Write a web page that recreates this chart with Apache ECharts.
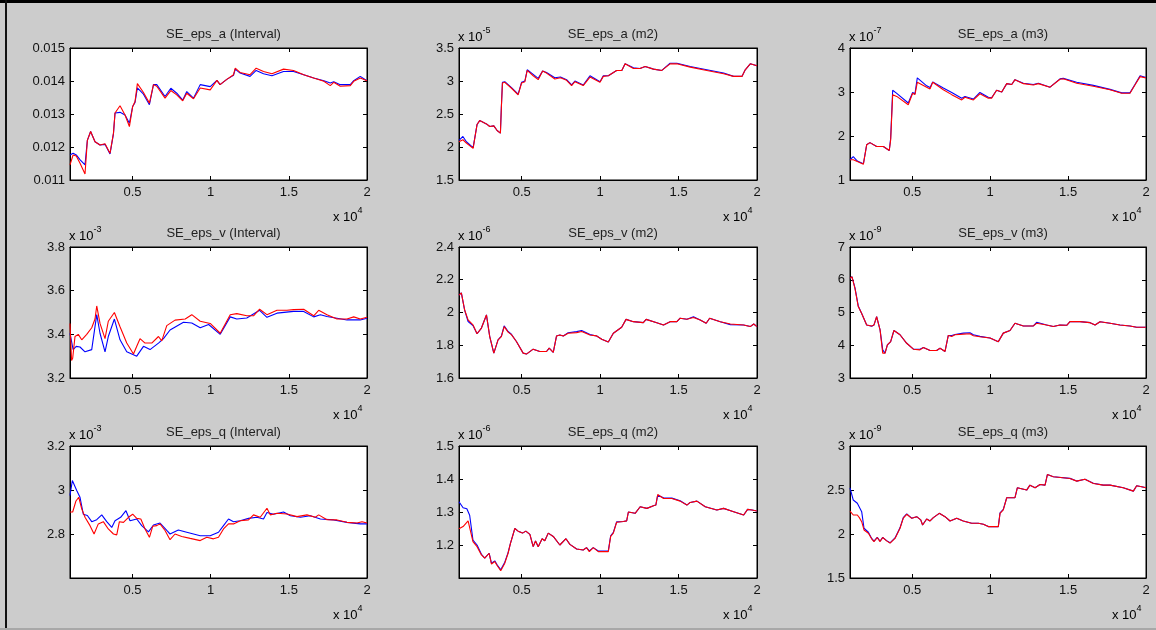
<!DOCTYPE html>
<html>
<head>
<meta charset="utf-8">
<script src="https://cdn.jsdelivr.net/npm/echarts@6/dist/echarts.min.js"></script>
<style>
  html, body { margin: 0; padding: 0; background: #cccccc; }
  #main { width: 1156px; height: 630px; }
</style>
</head>
<body>
<div id="main"></div>
<script>
// x axis (samples), shown as x 10^4
var xLim = [1000, 20000];
var xTicks = [5000, 10000, 15000, 20000];

// SE_eps_a (Interval)
var aIntBlue = [[1000,0.01176],[1200,0.01181],[1400,0.01176],[1650,0.01161],[1960,0.01146],[2110,0.0122],[2320,0.01247],[2600,0.01216],[2920,0.01206],[3240,0.01208],[3560,0.01179],[3670,0.01174],[3780,0.0124],[3880,0.01303],[4200,0.01305],[4520,0.01297],[4800,0.01272],[5010,0.01323],[5160,0.01335],[5310,0.01379],[5700,0.0136],[6080,0.01328],[6340,0.01389],[6550,0.01389],[7080,0.01353],[7450,0.01378],[7830,0.01363],[8210,0.01342],[8470,0.01368],[8900,0.01348],[9330,0.01389],[9970,0.01383],[10400,0.01402],[10600,0.01389],[11030,0.01405],[11460,0.01417],[11570,0.01436],[11880,0.01424],[12520,0.01414],[12910,0.01432],[13380,0.01422],[13920,0.01416],[14660,0.01429],[15300,0.01429],[15950,0.01419],[16590,0.01409],[17240,0.01401],[17650,0.01394],[17870,0.01398],[18290,0.01389],[18930,0.01389],[19150,0.01401],[19570,0.01414],[20000,0.01401]];
var aIntRed = [[1000,0.01146],[1200,0.01176],[1400,0.01173],[1650,0.0115],[1960,0.01118],[2110,0.0122],[2320,0.01247],[2600,0.01216],[2920,0.01206],[3240,0.0121],[3560,0.01181],[3670,0.01176],[3780,0.01242],[3880,0.01303],[4200,0.01325],[4520,0.01297],[4800,0.01262],[5010,0.01323],[5160,0.01338],[5310,0.01392],[5700,0.01365],[6080,0.01333],[6340,0.01389],[6550,0.01384],[7080,0.01348],[7450,0.01371],[7830,0.01358],[8210,0.0134],[8470,0.01363],[8900,0.01346],[9330,0.01379],[9970,0.01373],[10400,0.01402],[10600,0.01389],[11030,0.01405],[11460,0.01419],[11570,0.01439],[11880,0.01426],[12520,0.01419],[12910,0.01439],[13380,0.01429],[13920,0.01422],[14660,0.01436],[15300,0.01432],[15950,0.01419],[16590,0.01409],[17240,0.01399],[17650,0.01386],[17870,0.01396],[18290,0.01384],[18930,0.01386],[19150,0.01399],[19570,0.01409],[20000,0.01401]];

// SE_eps_a (m2), x 10^-5
var aM2Blue = [[1000,2.1],[1250,2.16],[1470,2.08],[1900,1.99],[2000,2.0],[2150,2.34],[2320,2.4],[2750,2.35],[2960,2.31],[3220,2.32],[3430,2.25],[3640,2.21],[3700,2.6],[3770,2.98],[3920,2.99],[4350,2.9],[4770,2.8],[4990,2.98],[5200,3.0],[5350,3.17],[5730,3.1],[6050,3.04],[6330,3.15],[6580,3.13],[7110,3.05],[7470,3.06],[7860,3.02],[8180,2.94],[8390,3.0],[8920,2.94],[9350,3.08],[9990,2.99],[10200,3.08],[10520,3.08],[11050,3.16],[11380,3.16],[11590,3.26],[12120,3.2],[12540,3.19],[12870,3.22],[13400,3.18],[13930,3.16],[14460,3.27],[14890,3.27],[15740,3.22],[16800,3.17],[17870,3.12],[18510,3.07],[19040,3.07],[19250,3.17],[19570,3.26],[20000,3.23]];
var aM2Red = [[1000,2.08],[1250,2.11],[1470,2.06],[1900,1.98],[2000,2.0],[2150,2.34],[2320,2.4],[2750,2.35],[2960,2.31],[3220,2.32],[3430,2.25],[3640,2.21],[3700,2.59],[3770,2.97],[3920,2.98],[4350,2.89],[4770,2.79],[4990,2.97],[5200,2.99],[5350,3.16],[5730,3.08],[6050,3.02],[6330,3.15],[6580,3.12],[7110,3.03],[7470,3.05],[7860,3.01],[8180,2.93],[8390,2.99],[8920,2.93],[9350,3.06],[9990,2.98],[10200,3.07],[10520,3.08],[11050,3.16],[11380,3.16],[11590,3.26],[12120,3.19],[12540,3.19],[12870,3.22],[13400,3.18],[13930,3.16],[14460,3.26],[14890,3.26],[15740,3.21],[16800,3.16],[17870,3.11],[18510,3.07],[19040,3.07],[19250,3.17],[19570,3.26],[20000,3.23]];

// SE_eps_a (m3), x 10^-7
var aM3Blue = [[1000,1.46],[1210,1.53],[1470,1.43],[1860,1.37],[2070,1.8],[2280,1.85],[2710,1.76],[3140,1.76],[3520,1.67],[3610,1.95],[3740,3.04],[4000,2.97],[4740,2.75],[5020,2.99],[5170,2.96],[5320,3.32],[5920,3.14],[6140,3.1],[6310,3.23],[6990,3.09],[7530,2.99],[8170,2.86],[8380,2.9],[8920,2.84],[9340,2.99],[9880,2.88],[10090,2.87],[10410,3.04],[10740,3.0],[11060,3.19],[11380,3.17],[11590,3.28],[12130,3.2],[12770,3.17],[13090,3.2],[13840,3.11],[14480,3.3],[14690,3.31],[15550,3.22],[16620,3.15],[17690,3.06],[18440,2.98],[18970,2.98],[19290,3.17],[19620,3.37],[20000,3.33]];
var aM3Red = [[1000,1.46],[1210,1.46],[1470,1.42],[1860,1.36],[2070,1.8],[2280,1.85],[2710,1.76],[3140,1.76],[3520,1.67],[3610,1.91],[3740,2.94],[4000,2.9],[4740,2.71],[5020,2.97],[5170,2.94],[5320,3.22],[5920,3.11],[6140,3.07],[6310,3.22],[6990,3.05],[7530,2.94],[8170,2.82],[8380,2.88],[8920,2.82],[9340,2.96],[9880,2.86],[10090,2.86],[10410,3.04],[10740,3.0],[11060,3.19],[11380,3.17],[11590,3.28],[12130,3.19],[12770,3.16],[13090,3.19],[13840,3.11],[14480,3.29],[14690,3.3],[15550,3.2],[16620,3.13],[17690,3.05],[18440,2.97],[18970,2.97],[19290,3.16],[19620,3.35],[20000,3.32]];

// SE_eps_v (Interval), x 10^-3
var vIntBlue = [[1000,3.405],[1100,3.4],[1200,3.33],[1400,3.345],[1640,3.342],[1960,3.32],[2390,3.33],[2710,3.49],[2920,3.405],[3240,3.32],[3450,3.39],[3840,3.47],[4200,3.375],[4630,3.32],[5270,3.3],[5700,3.345],[6120,3.33],[6660,3.36],[6980,3.38],[7400,3.42],[8260,3.455],[8790,3.452],[9330,3.43],[9870,3.445],[10610,3.4],[11250,3.48],[11670,3.47],[12310,3.475],[13130,3.51],[13600,3.478],[14240,3.497],[15300,3.505],[15950,3.505],[16590,3.48],[17020,3.49],[17440,3.482],[18720,3.466],[19570,3.466],[20000,3.474]];
var vIntRed = [[1000,3.45],[1100,3.28],[1170,3.29],[1320,3.39],[1530,3.4],[1750,3.375],[2070,3.4],[2390,3.43],[2600,3.47],[2710,3.53],[2920,3.45],[3240,3.38],[3450,3.46],[3840,3.5],[4200,3.435],[4630,3.36],[5060,3.31],[5270,3.345],[5480,3.38],[5800,3.36],[6230,3.36],[6660,3.39],[6870,3.37],[7190,3.44],[7720,3.465],[8370,3.47],[8790,3.49],[9330,3.46],[9970,3.45],[10610,3.405],[11250,3.49],[11670,3.495],[12310,3.485],[12740,3.485],[13130,3.515],[13600,3.49],[14240,3.51],[14880,3.51],[15300,3.513],[15950,3.515],[16590,3.485],[16910,3.51],[17440,3.49],[18080,3.47],[18720,3.47],[19150,3.48],[19570,3.47],[20000,3.478]];

// SE_eps_v (m2), x 10^-6
var vM2Blue = [[1000,2.106],[1150,2.12],[1360,2.015],[1580,1.945],[1890,1.92],[2150,1.87],[2430,1.905],[2530,1.899],[2750,1.985],[2960,1.853],[3220,1.752],[3340,1.752],[3490,1.833],[3700,1.855],[3880,1.918],[4130,1.884],[4340,1.867],[4660,1.823],[5090,1.752],[5300,1.746],[5730,1.776],[6150,1.762],[6580,1.762],[6750,1.782],[7010,1.756],[7220,1.857],[7430,1.863],[7650,1.857],[7960,1.876],[8500,1.883],[8820,1.89],[9350,1.865],[9780,1.857],[10100,1.837],[10520,1.82],[10840,1.873],[11370,1.91],[11650,1.958],[12120,1.944],[12750,1.938],[12930,1.958],[13610,1.938],[14040,1.924],[14460,1.944],[14890,1.944],[15100,1.965],[15530,1.959],[15950,1.974],[16380,1.954],[16760,1.934],[16980,1.965],[17660,1.944],[18300,1.926],[19150,1.924],[19570,1.914],[19790,1.93],[20000,1.914]];
var vM2Red = [[1000,2.106],[1150,2.12],[1360,2.015],[1580,1.955],[1890,1.925],[2150,1.87],[2430,1.905],[2530,1.899],[2750,1.985],[2960,1.853],[3220,1.752],[3340,1.752],[3490,1.833],[3700,1.853],[3880,1.914],[4130,1.88],[4340,1.865],[4660,1.823],[5090,1.752],[5300,1.746],[5730,1.776],[6150,1.762],[6580,1.762],[6750,1.782],[7010,1.756],[7220,1.857],[7430,1.863],[7650,1.857],[7960,1.873],[8500,1.877],[8820,1.884],[9350,1.863],[9780,1.857],[10100,1.837],[10520,1.82],[10840,1.873],[11370,1.91],[11650,1.958],[12120,1.944],[12750,1.938],[12930,1.958],[13610,1.938],[14040,1.924],[14460,1.944],[14890,1.944],[15100,1.965],[15530,1.959],[15950,1.97],[16380,1.954],[16760,1.934],[16980,1.965],[17660,1.944],[18300,1.93],[19150,1.924],[19570,1.914],[19790,1.93],[20000,1.914]];

// SE_eps_v (m3), x 10^-9
var vM3Blue = [[1000,6.04],[1130,6.09],[1320,5.75],[1530,5.2],[1750,4.97],[2070,4.62],[2390,4.58],[2540,4.62],[2710,4.87],[2930,4.47],[3100,3.86],[3250,3.76],[3400,4.01],[3610,4.11],[3820,4.45],[4210,4.32],[4640,4.06],[5070,3.88],[5490,3.88],[5710,3.93],[6140,3.84],[6560,3.84],[6780,3.91],[7100,3.81],[7310,4.3],[7530,4.3],[7740,4.33],[8280,4.37],[8700,4.38],[8920,4.32],[9340,4.27],[9990,4.22],[10520,4.11],[10840,4.37],[11270,4.45],[11590,4.67],[12130,4.59],[12770,4.59],[12980,4.7],[13620,4.62],[14050,4.57],[14480,4.62],[14910,4.61],[15120,4.72],[15760,4.72],[16410,4.69],[16730,4.62],[17050,4.72],[17690,4.67],[18330,4.62],[18970,4.59],[19400,4.55],[20000,4.55]];
var vM3Red = [[1000,6.04],[1130,6.09],[1320,5.73],[1530,5.18],[1750,4.97],[2070,4.62],[2390,4.59],[2540,4.62],[2710,4.87],[2930,4.47],[3100,3.76],[3250,3.76],[3400,4.01],[3610,4.11],[3820,4.45],[4210,4.32],[4640,4.06],[5070,3.88],[5490,3.86],[5710,3.93],[6140,3.84],[6560,3.84],[6780,3.91],[7100,3.81],[7310,4.3],[7530,4.27],[7740,4.32],[8280,4.34],[8700,4.35],[8920,4.29],[9340,4.26],[9990,4.22],[10520,4.11],[10840,4.37],[11270,4.45],[11590,4.67],[12130,4.59],[12770,4.59],[12980,4.67],[13620,4.62],[14050,4.57],[14480,4.62],[14910,4.61],[15120,4.72],[15760,4.72],[16410,4.69],[16730,4.62],[17050,4.72],[17690,4.67],[18330,4.62],[18970,4.59],[19400,4.55],[20000,4.55]];

// SE_eps_q (Interval), x 10^-3
var qIntBlue = [[1000,2.975],[1150,3.043],[1430,2.998],[1640,2.967],[1850,2.89],[2110,2.884],[2390,2.856],[2710,2.865],[3030,2.887],[3350,2.856],[3670,2.83],[3880,2.86],[4240,2.876],[4580,2.906],[4840,2.86],[5270,2.868],[5590,2.838],[6020,2.81],[6340,2.841],[6760,2.85],[7190,2.816],[7400,2.8],[7930,2.818],[8470,2.808],[9330,2.792],[9970,2.792],[10500,2.808],[10820,2.838],[11140,2.868],[11460,2.856],[11890,2.86],[12420,2.871],[12960,2.876],[13380,2.868],[13600,2.898],[14020,2.89],[14660,2.9],[15100,2.883],[15740,2.876],[16380,2.883],[17020,2.868],[17870,2.864],[18720,2.853],[19570,2.846],[20000,2.846]];
var qIntRed = [[1000,2.9],[1170,2.9],[1380,2.95],[1560,2.967],[1750,2.914],[1960,2.876],[2280,2.838],[2540,2.8],[2810,2.846],[3130,2.856],[3450,2.823],[3780,2.8],[3990,2.796],[4160,2.856],[4420,2.853],[4740,2.876],[5010,2.89],[5270,2.871],[5530,2.868],[5800,2.823],[6080,2.785],[6290,2.835],[6550,2.838],[6760,2.846],[7080,2.816],[7400,2.774],[7720,2.8],[8150,2.789],[8690,2.78],[9330,2.77],[9750,2.785],[10180,2.778],[10500,2.785],[10820,2.823],[11140,2.846],[11460,2.846],[11890,2.86],[12420,2.864],[12740,2.887],[13170,2.876],[13600,2.917],[13810,2.887],[14240,2.894],[14880,2.891],[15520,2.879],[16160,2.887],[16690,2.876],[16910,2.887],[17440,2.865],[18080,2.864],[18720,2.853],[19360,2.85],[19680,2.856],[20000,2.85]];

// SE_eps_q (m2), x 10^-6
var qM2Blue = [[1000,1.331],[1260,1.313],[1500,1.31],[1680,1.29],[1890,1.215],[2150,1.2],[2430,1.172],[2640,1.16],[2920,1.175],[3070,1.145],[3280,1.152],[3430,1.14],[3660,1.125],[3920,1.148],[4130,1.177],[4280,1.205],[4560,1.25],[4770,1.242],[5050,1.236],[5260,1.242],[5520,1.232],[5730,1.195],[5880,1.212],[6050,1.195],[6300,1.219],[6470,1.213],[6690,1.236],[7010,1.226],[7430,1.2],[7820,1.219],[8070,1.202],[8500,1.188],[8920,1.185],[9130,1.192],[9310,1.182],[9560,1.192],[9880,1.182],[10520,1.182],[10670,1.228],[10840,1.238],[11050,1.27],[11480,1.271],[11690,1.273],[11800,1.3],[12230,1.296],[12550,1.316],[12980,1.311],[13400,1.319],[13550,1.321],[13670,1.351],[14040,1.343],[14570,1.342],[15100,1.334],[15530,1.321],[15740,1.329],[16170,1.333],[16700,1.316],[17440,1.306],[17870,1.311],[18510,1.301],[19150,1.291],[19400,1.308],[19680,1.306],[20000,1.303]];
var qM2Red = [[1000,1.249],[1260,1.256],[1580,1.273],[1680,1.271],[1890,1.21],[2150,1.195],[2430,1.17],[2640,1.16],[2920,1.175],[3070,1.142],[3280,1.15],[3430,1.138],[3660,1.122],[3920,1.145],[4130,1.175],[4280,1.205],[4560,1.25],[4770,1.242],[5050,1.236],[5260,1.242],[5520,1.232],[5730,1.195],[5880,1.212],[6050,1.195],[6300,1.219],[6470,1.213],[6690,1.236],[7010,1.226],[7430,1.2],[7820,1.219],[8070,1.202],[8500,1.188],[8920,1.185],[9130,1.192],[9310,1.18],[9560,1.192],[9880,1.18],[10520,1.18],[10670,1.226],[10840,1.236],[11050,1.269],[11480,1.271],[11690,1.273],[11800,1.3],[12230,1.296],[12550,1.316],[12980,1.311],[13400,1.319],[13550,1.321],[13670,1.353],[14040,1.341],[14570,1.341],[15100,1.333],[15530,1.321],[15740,1.329],[16170,1.333],[16700,1.316],[17440,1.306],[17870,1.311],[18510,1.301],[19150,1.291],[19400,1.308],[19680,1.306],[20000,1.303]];

// SE_eps_q (m3), x 10^-9
var qM3Blue = [[1000,2.525],[1210,2.386],[1470,2.35],[1750,2.254],[1900,2.065],[2180,2.02],[2390,1.95],[2540,1.918],[2750,1.962],[2930,1.918],[3100,1.962],[3350,1.925],[3570,1.9],[3890,1.955],[4210,2.07],[4420,2.185],[4640,2.228],[4960,2.18],[5280,2.197],[5540,2.16],[5660,2.103],[5920,2.171],[6140,2.148],[6350,2.186],[6730,2.235],[7100,2.197],[7420,2.148],[7850,2.178],[8270,2.148],[8810,2.122],[9240,2.122],[9560,2.111],[9880,2.084],[10520,2.084],[10630,2.24],[10840,2.28],[11060,2.412],[11590,2.412],[11740,2.525],[12340,2.499],[12550,2.555],[12880,2.525],[13200,2.563],[13520,2.555],[13670,2.676],[14050,2.65],[15120,2.632],[15550,2.601],[16080,2.623],[16620,2.576],[17260,2.555],[17690,2.555],[18540,2.525],[19190,2.487],[19400,2.548],[19720,2.537],[20000,2.525]];
var qM3Red = [[1000,2.26],[1210,2.216],[1470,2.216],[1600,2.186],[1750,2.14],[1900,2.046],[2180,2.009],[2390,1.945],[2540,1.914],[2750,1.96],[2930,1.914],[3100,1.96],[3350,1.922],[3570,1.896],[3890,1.95],[4210,2.065],[4420,2.18],[4640,2.224],[4960,2.178],[5280,2.197],[5540,2.16],[5660,2.103],[5920,2.171],[6140,2.148],[6350,2.186],[6730,2.235],[7100,2.197],[7420,2.148],[7850,2.178],[8270,2.148],[8810,2.122],[9240,2.122],[9560,2.111],[9880,2.084],[10520,2.084],[10630,2.235],[10840,2.273],[11060,2.412],[11590,2.412],[11740,2.525],[12340,2.499],[12550,2.555],[12880,2.525],[13200,2.563],[13520,2.555],[13670,2.676],[14050,2.65],[15120,2.63],[15550,2.601],[16080,2.623],[16620,2.574],[17260,2.555],[17690,2.555],[18540,2.525],[19190,2.487],[19400,2.548],[19720,2.537],[20000,2.525]];

var titles = ['SE_eps_a (Interval)', 'SE_eps_a (m2)', 'SE_eps_a (m3)',
              'SE_eps_v (Interval)', 'SE_eps_v (m2)', 'SE_eps_v (m3)',
              'SE_eps_q (Interval)', 'SE_eps_q (m2)', 'SE_eps_q (m3)'];
var blues = [aIntBlue, aM2Blue, aM3Blue, vIntBlue, vM2Blue, vM3Blue, qIntBlue, qM2Blue, qM3Blue];
var reds  = [aIntRed, aM2Red, aM3Red, vIntRed, vM2Red, vM3Red, qIntRed, qM2Red, qM3Red];
var yMin  = [0.011, 1.5, 1, 3.2, 1.6, 3, 2.6, 1.1, 1.5];
var yMax  = [0.015, 3.5, 4, 3.8, 2.4, 7, 3.2, 1.5, 3];
var yStep = [0.001, 0.5, 1, 0.2, 0.2, 1, 0.2, 0.1, 0.5];
var yExp  = [null, '-5', '-7', '-3', '-6', '-9', '-3', '-6', '-9'];
var yHide = [null, null, null, null, null, null, 2.6, 1.1, null];

var colLeft = [70, 459, 850];
var colWidth = [297, 298, 296];
var rowTop = [48, 247, 446];
var rowHeight = [132, 131, 132];

var chart = echarts.init(document.getElementById('main'));
var font = 'Liberation Sans, Arial, sans-serif';

var grids = [], xAxes = [], yAxes = [], series = [], titleOpts = [], graphics = [];

for (var i = 0; i < 9; i++) {
  var r = Math.floor(i / 3), c = i % 3;
  var L = colLeft[c], W = colWidth[c], T = rowTop[r], H = rowHeight[r];
  grids.push({ left: L, top: T, width: W, height: H, show: true,
    backgroundColor: '#ffffff', borderColor: '#000000', borderWidth: 1,
    containLabel: false, outerBoundsMode: 'none' });

  var tickStyle = { show: true, inside: true, length: 4, lineStyle: { color: '#000', width: 1 } };
  xAxes.push({ type: 'value', gridIndex: i, position: 'bottom', min: xLim[0], max: xLim[1],
    axisLine: { show: true, lineStyle: { color: '#000', width: 1 } },
    axisTick: Object.assign({ customValues: xTicks }, tickStyle),
    splitLine: { show: false },
    axisLabel: { customValues: xTicks, margin: 6, color: '#111', fontFamily: font, fontSize: 13,
      formatter: function (v) { return String(+(v / 10000).toFixed(2)); } } });
  xAxes.push({ type: 'value', gridIndex: i, position: 'top', min: xLim[0], max: xLim[1],
    axisLine: { show: true, lineStyle: { color: '#000', width: 1 } },
    axisTick: Object.assign({ customValues: xTicks }, tickStyle),
    splitLine: { show: false }, axisLabel: { show: false } });

  (function (hide) {
    yAxes.push({ type: 'value', gridIndex: i, position: 'left', min: yMin[i], max: yMax[i], interval: yStep[i],
      axisLine: { show: true, lineStyle: { color: '#000', width: 1 } },
      axisTick: tickStyle, splitLine: { show: false },
      axisLabel: { margin: 5, color: '#111', fontFamily: font, fontSize: 13, showMinLabel: true, showMaxLabel: true,
        formatter: function (v) {
          if (hide !== null && Math.abs(v - hide) < 1e-9) return '';
          return String(+v.toFixed(4));
        } } });
  })(yHide[i]);
  yAxes.push({ type: 'value', gridIndex: i, position: 'right', min: yMin[i], max: yMax[i], interval: yStep[i],
    axisLine: { show: true, lineStyle: { color: '#000', width: 1 } },
    axisTick: tickStyle, splitLine: { show: false }, axisLabel: { show: false } });

  series.push({ type: 'line', xAxisIndex: 2 * i, yAxisIndex: 2 * i, data: blues[i],
    showSymbol: false, symbol: 'none', lineStyle: { color: '#0000ff', width: 1.1 }, z: 2 });
  series.push({ type: 'line', xAxisIndex: 2 * i, yAxisIndex: 2 * i, data: reds[i],
    showSymbol: false, symbol: 'none', lineStyle: { color: '#ff0000', width: 1.1 }, z: 3 });

  titleOpts.push({ text: titles[i], left: L + W / 2, top: T - 25, textAlign: 'center',
    textStyle: { fontFamily: font, fontSize: 13, fontWeight: 'normal', color: '#222' } });

  var rich = {
    b: { fontFamily: font, fontSize: 13, color: '#111', lineHeight: 18, verticalAlign: 'bottom' },
    s: { fontFamily: font, fontSize: 9, color: '#111', lineHeight: 18, verticalAlign: 'top' }
  };
  // x 10^4 under each axis
  graphics.push({ type: 'text', left: L + W - 34, top: T + H + 26, silent: true,
    style: { text: '{b|x 10}{s|4}', rich: rich } });
  if (yExp[i]) {
    graphics.push({ type: 'text', left: L - 1, top: T - 22, silent: true,
      style: { text: '{b|x 10}{s|' + yExp[i] + '}', rich: rich } });
  }
}

// figure frame lines
graphics.push({ type: 'rect', shape: { x: 0, y: 0, width: 1156, height: 3 }, style: { fill: '#000' }, silent: true });
graphics.push({ type: 'rect', shape: { x: 5, y: 0, width: 2, height: 630 }, style: { fill: '#111' }, silent: true });
graphics.push({ type: 'rect', shape: { x: 0, y: 628, width: 1156, height: 2 }, style: { fill: '#a8a8a8' }, silent: true });

chart.setOption({
  backgroundColor: '#cccccc',
  animation: false,
  title: titleOpts,
  grid: grids,
  xAxis: xAxes,
  yAxis: yAxes,
  series: series,
  graphic: graphics
});
</script>
</body>
</html>
